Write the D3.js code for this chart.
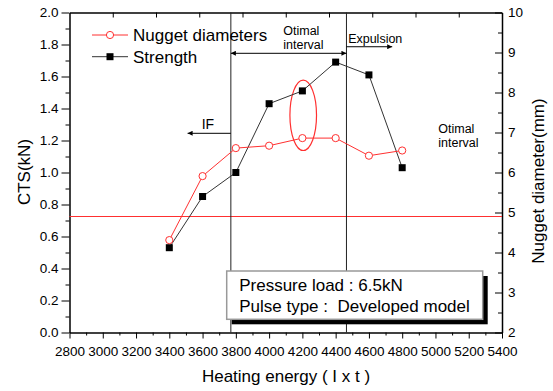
<!DOCTYPE html>
<html>
<head>
<meta charset="utf-8">
<script src="https://cdn.jsdelivr.net/npm/d3@7"></script>
<style>
body { margin: 0; background: #fff; }
text { font-family: Arial, "Liberation Sans", sans-serif; }
</style>
</head>
<body>
<svg id="chart" width="553" height="391"></svg>
<script>
// data
var energy = [3400, 3600, 3800, 4000, 4200, 4400, 4600, 4800];
var strength = [0.53, 0.85, 1.00, 1.43, 1.51, 1.69, 1.61, 1.03];
var nugget = [4.31, 5.91, 6.61, 6.67, 6.86, 6.86, 6.42, 6.55];
var xTicks = d3.range(2800, 5401, 200);
var yTicks = d3.range(0, 2.01, 0.2);
var y2Ticks = d3.range(2, 10.01, 1);
var boundaries = [3770, 4465];
var minNugget = 4.9;
var legendLabels = ['Nugget diameters', 'Strength'];
var boxLines = ['Pressure load : 6.5kN', 'Pulse type :  Developed model'];

var svg = d3.select('#chart'),
	margin = { top: 12.5, right: 51, bottom: 58.5, left: 69.5 },
	width = 553 - margin.left - margin.right,
	height = 391 - margin.top - margin.bottom,
	g = svg.append('g').attr('transform', 'translate(' + margin.left + ',' + margin.top + ')');

var x = d3.scaleLinear().domain([2800, 5400]).range([0, width]);
var y = d3.scaleLinear().domain([0, 2]).range([height, 0]);
var y2 = d3.scaleLinear().domain([2, 10]).range([height, 0]);
var xTop = d3.scaleLinear().domain([0, 10]).range([0, width]);

var defs = svg.append('defs');
defs.append('marker').attr('id', 'arr').attr('viewBox', '0 0 10 10')
	.attr('refX', 10).attr('refY', 5).attr('markerWidth', 7).attr('markerHeight', 5)
	.attr('markerUnits', 'userSpaceOnUse').attr('orient', 'auto-start-reverse')
	.append('path').attr('d', 'M0,0L10,5L0,10Z').attr('fill', '#000');

// axes
function styleAxis(sel, fs) {
	sel.selectAll('.domain').attr('stroke', '#000').attr('stroke-width', 1.5);
	sel.selectAll('.tick line').attr('stroke', '#000');
	sel.selectAll('text').attr('font-size', fs).attr('fill', '#000').attr('font-family', 'Arial, "Liberation Sans", sans-serif');
}
var minorX = d3.range(2900, 5400, 200), minorY = d3.range(0.1, 2, 0.2), minorY2 = d3.range(2.5, 10, 1);

var gx = g.append('g').attr('transform', 'translate(0,' + height + ')')
	.call(d3.axisBottom(x).tickValues(xTicks).tickSizeInner(6).tickSizeOuter(0).tickPadding(8).tickFormat(d3.format('d')));
g.append('g').attr('transform', 'translate(0,' + height + ')')
	.call(d3.axisBottom(x).tickValues(minorX).tickSize(3).tickFormat('')).select('.domain').remove();
styleAxis(gx, '13.5px');

var gy = g.append('g').call(d3.axisLeft(y).tickValues(yTicks).tickSizeInner(8).tickSizeOuter(0).tickPadding(3).tickFormat(d3.format('.1f')));
g.append('g').call(d3.axisLeft(y).tickValues(minorY).tickSize(4).tickFormat('')).select('.domain').remove();
styleAxis(gy, '13.5px');

var gy2 = g.append('g').attr('transform', 'translate(' + width + ',0)')
	.call(d3.axisRight(y2).tickValues(y2Ticks).tickSizeInner(-7).tickSizeOuter(0).tickPadding(6).tickFormat(d3.format('d')));
g.append('g').attr('transform', 'translate(' + width + ',0)')
	.call(d3.axisRight(y2).tickValues(minorY2).tickSize(-4).tickFormat('')).select('.domain').remove();
styleAxis(gy2, '13.5px');

var gt = g.append('g').call(d3.axisTop(xTop).tickValues(d3.range(1, 10)).tickSizeInner(-5).tickSizeOuter(0).tickFormat(''));
styleAxis(gt, '13.5px');

// axis titles
svg.append('text').attr('x', 286).attr('y', 382).attr('text-anchor', 'middle').attr('font-size', '17px').text('Heating energy ( I x t )');
svg.append('text').attr('transform', 'translate(30,172) rotate(-90)').attr('text-anchor', 'middle').attr('font-size', '17px').text('CTS(kN)');
svg.append('text').attr('transform', 'translate(544,181) rotate(-90)').attr('text-anchor', 'middle').attr('font-size', '17px').text('Nugget diameter(mm)');

// reference lines
g.append('line').attr('x1', 0).attr('x2', width).attr('y1', y2(minNugget)).attr('y2', y2(minNugget))
	.attr('stroke', '#ff3030').attr('stroke-width', 1.2);
g.selectAll('.bound').data(boundaries).enter().append('line').attr('class', 'bound')
	.attr('x1', function(d) { return x(d); }).attr('x2', function(d) { return x(d); })
	.attr('y1', 0).attr('y2', height).attr('stroke', '#222').attr('stroke-width', 1);

// arrows
var arrows = [
	{ from: boundaries[0], to: 3510, y: 1.245, both: false },
	{ from: boundaries[0], to: boundaries[1], y: 1.745, both: true },
	{ from: boundaries[1], to: 4740, y: 1.786, both: false }
];
g.selectAll('.arrow').data(arrows).enter().append('line').attr('class', 'arrow')
	.attr('x1', function(d) { return x(d.from); }).attr('x2', function(d) { return x(d.to); })
	.attr('y1', function(d) { return y(d.y); }).attr('y2', function(d) { return y(d.y); })
	.attr('stroke', '#000').attr('stroke-width', 1)
	.attr('marker-end', 'url(#arr)')
	.attr('marker-start', function(d) { return d.both ? 'url(#arr)' : null; });

// annotations
var notes = [
	{ x: 4085, y: 1.86, t: 'Otimal', fs: '12.5px' },
	{ x: 4085, y: 1.772, t: 'interval', fs: '12.5px' },
	{ x: 4475, y: 1.81, t: 'Expulsion', fs: '12.5px' },
	{ x: 3595, y: 1.275, t: 'IF', fs: '14px' },
	{ x: 5017, y: 1.25, t: 'Otimal', fs: '12.5px' },
	{ x: 5017, y: 1.16, t: 'interval', fs: '12.5px' }
];
g.selectAll('.note').data(notes).enter().append('text').attr('class', 'note')
	.attr('x', function(d) { return x(d.x); }).attr('y', function(d) { return y(d.y); })
	.attr('font-size', function(d) { return d.fs; }).text(function(d) { return d.t; });

// ellipse around 4200
g.append('ellipse').attr('cx', x(4205)).attr('cy', y2(7.43))
	.attr('rx', x(4285) - x(4205)).attr('ry', y2(6.55) - y2(7.43))
	.attr('fill', 'none').attr('stroke', '#ff3030').attr('stroke-width', 1.2);

// series
var lineS = d3.line().x(function(d, i) { return x(energy[i]); }).y(function(d) { return y(d); });
var lineN = d3.line().x(function(d, i) { return x(energy[i]); }).y(function(d) { return y2(d); });

g.append('path').datum(strength).attr('d', lineS).attr('fill', 'none').attr('stroke', '#333').attr('stroke-width', 1);
g.append('path').datum(nugget).attr('d', lineN).attr('fill', 'none').attr('stroke', '#ff3030').attr('stroke-width', 1);

g.selectAll('.sq').data(strength).enter().append('rect').attr('class', 'sq')
	.attr('x', function(d, i) { return x(energy[i]) - 3.5; }).attr('y', function(d) { return y(d) - 3.5; })
	.attr('width', 7).attr('height', 7).attr('fill', '#000');
g.selectAll('.ci').data(nugget).enter().append('circle').attr('class', 'ci')
	.attr('cx', function(d, i) { return x(energy[i]); }).attr('cy', function(d) { return y2(d); })
	.attr('r', 3.6).attr('fill', '#fff').attr('stroke', '#ff3030').attr('stroke-width', 1);

// legend
var leg = svg.append('g').attr('transform', 'translate(92,35)');
legendLabels.forEach(function(lbl, i) {
	var row = leg.append('g').attr('transform', 'translate(0,' + (i * 21.7) + ')');
	var col = i === 0 ? '#ff3030' : '#333';
	row.append('line').attr('x1', 0).attr('x2', 36).attr('y1', 0).attr('y2', 0).attr('stroke', col);
	if (i === 0) row.append('circle').attr('cx', 18).attr('cy', 0).attr('r', 3.6).attr('fill', '#fff').attr('stroke', col);
	else row.append('rect').attr('x', 14.5).attr('y', -3.5).attr('width', 7).attr('height', 7).attr('fill', '#000');
	row.append('text').attr('x', 41).attr('y', 6).attr('font-size', '17px').text(lbl);
});

// info box with shadow
var box = { x: 226.7, y: 271, w: 256, h: 48.3 };
svg.append('rect').attr('x', box.x + 5).attr('y', box.y + 5).attr('width', box.w).attr('height', box.h).attr('fill', '#000');
svg.append('rect').attr('x', box.x).attr('y', box.y).attr('width', box.w).attr('height', box.h)
	.attr('fill', '#fff').attr('stroke', '#999').attr('stroke-width', 1.5);
boxLines.forEach(function(t, i) {
	svg.append('text').attr('x', box.x + 12.5).attr('y', box.y + 20 + i * 21).attr('font-size', '17px')
		.attr('xml:space', 'preserve').style('white-space', 'pre').text(t);
});
</script>
</body>
</html>
